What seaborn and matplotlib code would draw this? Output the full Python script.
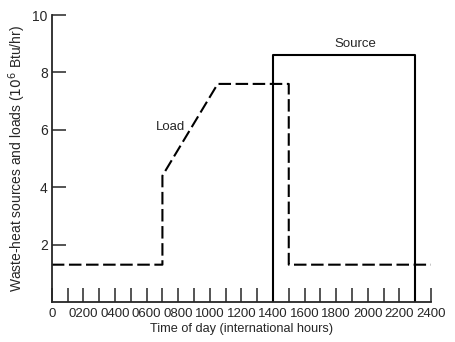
import numpy as np
import pandas as pd
import seaborn as sns
import matplotlib.pyplot as plt

# load profile (dashed)
load_hours = [0, 700, 700, 1050, 1500, 1500, 2400]
load_vals = [1.3, 1.3, 4.4, 7.6, 7.6, 1.3, 1.3]

# source profile (solid)
source_hours = [1400, 1400, 2300, 2300]
source_vals = [0, 8.6, 8.6, 0]

x_ticks = list(range(0, 2401, 100))
x_labels = ['0', '0200', '0400', '0600', '0800', '1000', '1200', '1400',
            '1600', '1800', '2000', '2200', '2400']
y_ticks = [2, 4, 6, 8, 10]

sns.set_style('ticks')
plt.rcParams['font.family'] = ['Liberation Sans', 'DejaVu Sans']

load_df = pd.DataFrame({'hour': load_hours, 'value': load_vals})
source_df = pd.DataFrame({'hour': source_hours, 'value': source_vals})

fig = plt.figure(figsize=(4.55, 3.42), dpi=100)
ax = fig.add_axes([0.114, 0.117, 0.833, 0.839])

sns.lineplot(data=load_df, x='hour', y='value', sort=False, estimator=None,
             color='black', linewidth=1.5, ax=ax)
ax.lines[-1].set_dashes((6, 2.2))
sns.lineplot(data=source_df, x='hour', y='value', sort=False, estimator=None,
             color='black', linewidth=1.5, ax=ax)

ax.set_xlim(0, 2400)
ax.set_ylim(0, 10)

# every hour tick drawn inward, labels only every 200
ax.set_xticks(x_ticks)
labels = []
for h in x_ticks:
    labels.append(x_labels[h // 200] if h % 200 == 0 else '')
ax.set_xticklabels(labels, fontsize=9.5)
ax.tick_params(axis='x', direction='in', length=10, width=1.1, pad=-3)
for t in ax.xaxis.get_ticklabels():
    t.set_y(-0.035)

ax.set_yticks(y_ticks)
ax.set_yticklabels([str(v) for v in y_ticks], fontsize=10)
ax.tick_params(axis='y', direction='in', length=10, width=1.1, pad=3)

for side in ['top', 'right']:
    ax.spines[side].set_visible(False)
for side in ['left', 'bottom']:
    ax.spines[side].set_linewidth(1.3)

ax.set_xlabel('Time of day (international hours)', fontsize=9.2, labelpad=2)
ax.set_ylabel('Waste-heat sources and loads ($10^6$ Btu/hr)', fontsize=10,
              labelpad=3)

ax.text(1920, 9.0, 'Source', fontsize=9.5, ha='center', va='center')
ax.text(750, 6.1, 'Load', fontsize=9.5, ha='center', va='center')

fig.savefig('out.png', dpi=100)
